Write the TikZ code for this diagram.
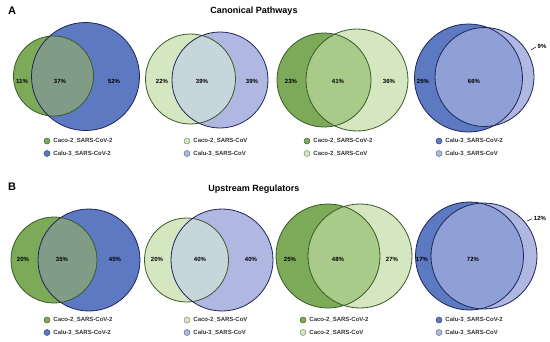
\documentclass[tikz,border=0pt]{standalone}
\usepackage{fontspec}
\setmainfont{Liberation Sans}
\usetikzlibrary{positioning}

\definecolor{dgreen}{RGB}{124,170,88}
\definecolor{lgreen}{RGB}{212,231,193}
\definecolor{dblue}{RGB}{92,121,194}
\definecolor{lblue}{RGB}{176,183,225}
\definecolor{gb}{RGB}{128,156,135}
\definecolor{lgb}{RGB}{198,214,219}
\definecolor{gg}{RGB}{168,203,138}
\definecolor{bb}{RGB}{143,160,214}
\definecolor{gline}{RGB}{58,90,40}
\definecolor{bline}{RGB}{30,38,88}

\begin{document}
\begin{tikzpicture}[x=1pt, y=-1pt,
    pct/.style={font=\bfseries\fontsize{6}{7}\selectfont, inner sep=0pt},
    title/.style={font=\bfseries\fontsize{9}{10}\selectfont, inner sep=0pt},
    panel/.style={font=\bfseries\fontsize{11}{12}\selectfont, inner sep=0pt},
    legtext/.style={font=\bfseries\fontsize{6}{7}\selectfont, inner sep=0pt, anchor=west, text=black!80},
    dot/.style={circle, draw=#1!60!black, fill=#1, line width=0.5pt, minimum size=6pt, inner sep=0pt},
    rim/.style={draw=#1, line width=0.8pt}
]
\useasboundingbox (0,0) rectangle (550,341);

% Panel labels and titles
\node[panel] (labA) at (12,11) {A};
\node[title] (titA) at (254,11) {Canonical Pathways};
\node[panel] (labB) at (12,187) {B};
\node[title] (titB) at (254,189) {Upstream Regulators};

% Venn diagrams: first circle, second circle, overlap colour
\foreach \ax/\ay/\ar/\bx/\by/\br/\ca/\cb/\cab/\la/\lb in {
    53.5/76/40/85.5/76.5/54/dgreen/dblue/gb/gline/bline,
    190.5/79/45/220/80/48/lgreen/lblue/lgb/gline/bline,
    324/80/47/357/80/51/dgreen/lgreen/gg/gline/gline,
    468.5/78/54/484.5/77/49.5/dblue/lblue/bb/bline/bline,
    54/260/43/89/260/51/dgreen/dblue/gb/gline/bline,
    186.5/260/42/222/260/51/lgreen/lblue/lgb/gline/bline,
    328/256/52/360/256/52/dgreen/lgreen/gg/gline/gline,
    469.5/256/54/484/256/53/dblue/lblue/bb/bline/bline} {
    \fill[\ca] (\ax,\ay) circle[radius=\ar pt];
    \fill[\cb] (\bx,\by) circle[radius=\br pt];
    \begin{scope}
        \clip (\ax,\ay) circle[radius=\ar pt];
        \fill[\cab] (\bx,\by) circle[radius=\br pt];
    \end{scope}
    \draw[rim=\la] (\ax,\ay) circle[radius=\ar pt];
    \draw[rim=\lb] (\bx,\by) circle[radius=\br pt];
}

% Percentages, panel A
\node[pct] (a11) at (22,81) {11\%};
\node[pct] (a12) at (60,81) {37\%};
\node[pct] (a13) at (114,81) {52\%};
\node[pct] (a21) at (162,81) {22\%};
\node[pct] (a22) at (202,81) {39\%};
\node[pct] (a23) at (252,81) {39\%};
\node[pct] (a31) at (291,81) {23\%};
\node[pct] (a32) at (338,81) {41\%};
\node[pct] (a33) at (389,81) {36\%};
\node[pct] (a41) at (423,81) {25\%};
\node[pct] (a42) at (474,81) {66\%};
\node[pct] (a43) at (542,46) {9\%};
\coordinate (a43tip) at (531,50);
\draw[line width=0.5pt, shorten >=2pt] (a43tip) -- (a43.west);

% Percentages, panel B
\node[pct] (b11) at (23,259) {20\%};
\node[pct] (b12) at (62,259) {35\%};
\node[pct] (b13) at (115,259) {45\%};
\node[pct] (b21) at (157,259) {20\%};
\node[pct] (b22) at (200,259) {40\%};
\node[pct] (b23) at (251,259) {40\%};
\node[pct] (b31) at (290,259) {25\%};
\node[pct] (b32) at (338,259) {48\%};
\node[pct] (b33) at (392,259) {27\%};
\node[pct] (b41) at (422,259) {17\%};
\node[pct] (b42) at (473,259) {72\%};
\node[pct] (b43) at (540,218) {12\%};
\coordinate (b43tip) at (527,221);
\draw[line width=0.5pt, shorten >=2pt] (b43tip) -- (b43.west);

% Legends
\foreach \lx/\ly/\ca/\cb/\ta/\tb/\n in {
    47/141/dgreen/dblue/Caco-2\_SARS-CoV-2/Calu-3\_SARS-CoV-2/a1,
    187/141/lgreen/lblue/Caco-2\_SARS-CoV/Calu-3\_SARS-CoV/a2,
    307/141/dgreen/lgreen/Caco-2\_SARS-CoV-2/Caco-2\_SARS-CoV/a3,
    439/141/dblue/lblue/Calu-3\_SARS-CoV-2/Calu-3\_SARS-CoV/a4,
    47/320/dgreen/dblue/Caco-2\_SARS-CoV-2/Calu-3\_SARS-CoV-2/b1,
    187/320/lgreen/lblue/Caco-2\_SARS-CoV/Calu-3\_SARS-CoV/b2,
    303/320/dgreen/lgreen/Caco-2\_SARS-CoV-2/Caco-2\_SARS-CoV/b3,
    439/320/dblue/lblue/Calu-3\_SARS-CoV-2/Calu-3\_SARS-CoV/b4} {
    \node[dot=\ca] (dot\n x) at (\lx,\ly) {};
    \node[dot=\cb] (dot\n y) at (\lx,\ly+12.5) {};
    \node[legtext, right=3pt of dot\n x] (leg\n x) {\ta};
    \node[legtext, right=3pt of dot\n y] (leg\n y) {\tb};
}

\end{tikzpicture}
\end{document}
